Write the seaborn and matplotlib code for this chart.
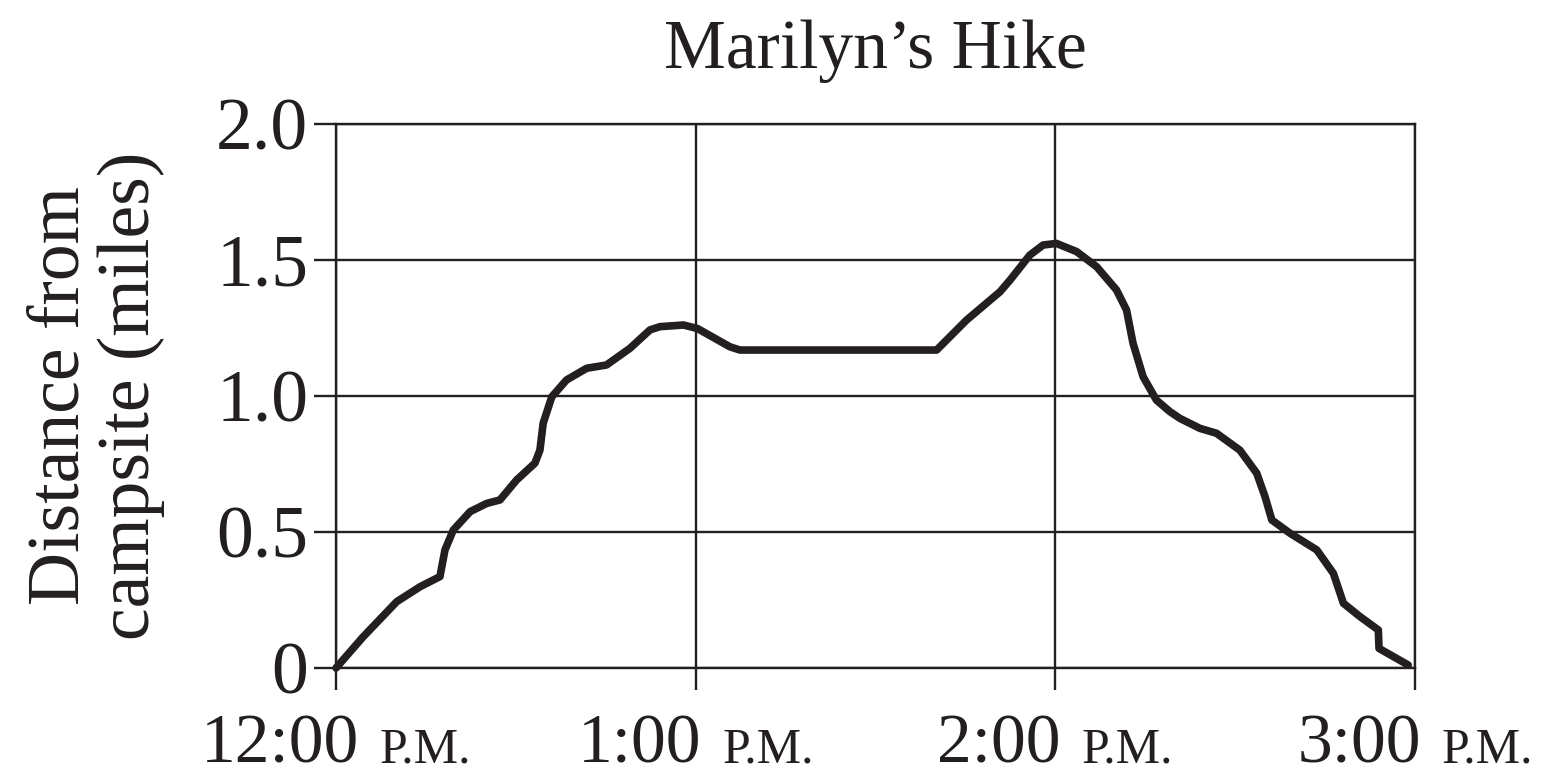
import matplotlib
matplotlib.use("Agg")
import matplotlib.pyplot as plt
import seaborn as sn

# hours after noon, miles from campsite
hours = [0.0, 0.075, 0.169, 0.234, 0.289, 0.303, 0.326, 0.373, 0.419, 0.456,
         0.502, 0.553, 0.567, 0.576, 0.600, 0.641, 0.697, 0.752, 0.817, 0.873,
         0.901, 0.966, 1.005, 1.095, 1.123, 1.670, 1.753, 1.846, 1.874, 1.929,
         1.966, 2.003, 2.059, 2.115, 2.170, 2.198, 2.216, 2.244, 2.281, 2.318,
         2.346, 2.402, 2.448, 2.513, 2.560, 2.583, 2.602, 2.653, 2.727, 2.773,
         2.801, 2.847, 2.898, 2.900, 2.981]
miles = [0.0, 0.114, 0.244, 0.299, 0.336, 0.434, 0.507, 0.575, 0.605, 0.618,
         0.691, 0.753, 0.801, 0.900, 0.997, 1.059, 1.102, 1.114, 1.175, 1.243,
         1.255, 1.261, 1.248, 1.181, 1.169, 1.169, 1.279, 1.383, 1.426, 1.518,
         1.555, 1.561, 1.531, 1.475, 1.390, 1.316, 1.194, 1.071, 0.985, 0.943,
         0.918, 0.881, 0.863, 0.801, 0.716, 0.630, 0.544, 0.495, 0.434, 0.348,
         0.238, 0.189, 0.140, 0.072, 0.011]

y_ticks = [0, 0.5, 1.0, 1.5, 2.0]
y_labels = ["0", "0.5", "1.0", "1.5", "2.0"]
x_ticks = [0, 1, 2, 3]
x_main = ["12:00", "1:00", "2:00", "3:00"]
x_suffix = "P.M."

ink = "#231f20"

sn.set_theme(style="white")
plt.rcParams["font.family"] = ["Liberation Serif", "DejaVu Serif"]

fig = plt.figure(figsize=(15.46, 7.78), dpi=100)
ax = fig.add_axes([336 / 1546, 1 - 668 / 778, (1415 - 336) / 1546, (668 - 124) / 778])

sn.lineplot(x=hours, y=miles, sort=False, estimator=None, ax=ax, color=ink,
            linewidth=5.5, solid_joinstyle="round", solid_capstyle="round",
            clip_on=False, zorder=5)

ax.set_xlim(0, 3)
ax.set_ylim(0, 2)
ax.set_yticks(y_ticks)
ax.set_yticklabels(y_labels, fontsize=53, color=ink)
ax.set_xticks(x_ticks)
ax.set_xticklabels([])
ax.tick_params(axis="both", direction="out", length=16, width=1.7, color=ink, pad=4,
               bottom=True, left=True, top=False, right=False)
ax.grid(True, color=ink, linewidth=1.7)
for s in ax.spines.values():
    s.set_visible(True)
    s.set_color(ink)
    s.set_linewidth(1.7)

ax.set_title("Marilyn\u2019s Hike", fontsize=50, color=ink, pad=40)
ax.set_ylabel("Distance from\ncampsite (miles)", fontsize=53, color=ink,
              linespacing=1.05, labelpad=37)

# x labels: big time + small-caps style "P.M.", centred together under each tick
fig.canvas.draw()
renderer = fig.canvas.get_renderer()
gap = 15
base = -68
for t, lab in zip(x_ticks, x_main):
    a = ax.annotate(lab, xy=(t, 0), xycoords=("data", "axes fraction"),
                    xytext=(0, base), textcoords="offset points",
                    ha="left", va="baseline", fontsize=50, color=ink,
                    annotation_clip=False)
    b = ax.annotate(x_suffix, xy=(t, 0), xycoords=("data", "axes fraction"),
                    xytext=(0, base), textcoords="offset points",
                    ha="left", va="baseline", fontsize=36, color=ink,
                    annotation_clip=False)
    w1 = a.get_window_extent(renderer).width * 72 / fig.dpi
    w2 = b.get_window_extent(renderer).width * 72 / fig.dpi
    total = w1 + gap + w2
    a.set_position((-total / 2, base))
    b.set_position((-total / 2 + w1 + gap, base))

fig.savefig("out.png", dpi=100)
plt.close(fig)
